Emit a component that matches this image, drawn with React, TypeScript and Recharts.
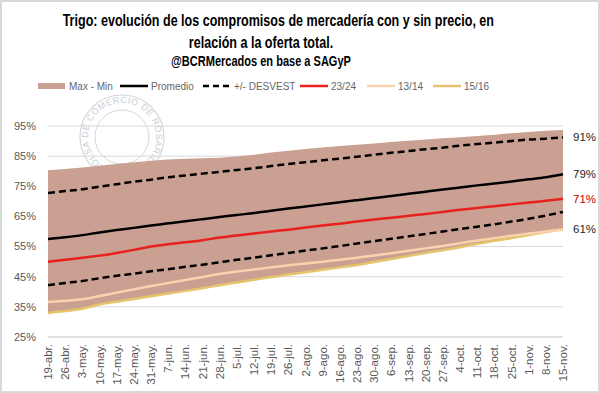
import React from 'react';
import { ComposedChart, Area, Line, XAxis, YAxis, CartesianGrid } from 'recharts';

// semanas de la campaña
const weeks = [
  '19-abr.', '26-abr.', '3-may.', '10-may.', '17-may.', '24-may.', '31-may.', '7-jun.',
  '14-jun.', '21-jun.', '28-jun.', '5-jul.', '12-jul.', '19-jul.', '26-jul.', '2-ago.',
  '9-ago.', '16-ago.', '23-ago.', '30-ago.', '6-sep.', '13-sep.', '20-sep.', '27-sep.',
  '4-oct.', '11-oct.', '18-oct.', '25-oct.', '1-nov.', '8-nov.', '15-nov.',
];

const maxValues = [
  80.3, 80.7, 81.2, 81.8, 82.4, 83.0, 83.5, 83.9, 84.1, 84.3, 84.5, 84.9, 85.5, 86.2, 86.8, 87.4,
  87.9, 88.4, 88.8, 89.2, 89.7, 90.1, 90.5, 90.9, 91.3, 91.7, 92.1, 92.6, 93.0, 93.4, 93.7,
];
const minValues = [
  33.0, 33.6, 34.4, 35.8, 36.7, 37.6, 38.5, 39.4, 40.3, 41.2, 42.2, 43.1, 44.0, 44.9, 45.7, 46.5,
  47.3, 48.1, 48.9, 49.9, 50.9, 51.9, 52.9, 53.8, 54.8, 55.9, 56.9, 57.8, 58.8, 59.8, 60.8,
];
const avgValues = [
  57.5, 58.1, 58.8, 59.7, 60.5, 61.2, 62.0, 62.7, 63.4, 64.1, 64.8, 65.5, 66.1, 66.9, 67.6, 68.3,
  69.0, 69.7, 70.4, 71.1, 71.8, 72.5, 73.2, 73.9, 74.6, 75.3, 75.9, 76.6, 77.3, 78.0, 79.0,
];
const upperDev = [
  72.8, 73.4, 74.0, 74.9, 75.7, 76.5, 77.2, 78.0, 78.6, 79.2, 79.8, 80.4, 81.0, 81.7, 82.4, 83.0,
  83.6, 84.2, 84.8, 85.5, 86.1, 86.7, 87.3, 87.8, 88.5, 89.0, 89.5, 90.0, 90.5, 90.8, 91.2,
];
const lowerDev = [
  42.2, 42.9, 43.6, 44.5, 45.3, 46.0, 46.8, 47.5, 48.3, 49.0, 49.8, 50.6, 51.3, 52.1, 52.9, 53.7,
  54.4, 55.2, 56.0, 56.8, 57.6, 58.4, 59.2, 60.0, 60.8, 61.6, 62.4, 63.3, 64.2, 65.3, 66.5,
];
const camp2324 = [
  50.0, 50.6, 51.3, 52.0, 52.9, 53.9, 55.0, 55.8, 56.4, 57.1, 58.0, 58.7, 59.3, 60.0, 60.6, 61.3,
  62.0, 62.6, 63.3, 64.0, 64.6, 65.2, 65.8, 66.5, 67.2, 67.8, 68.4, 69.0, 69.6, 70.2, 70.8,
];
const camp1314 = [
  36.6, 37.0, 37.5, 38.6, 39.7, 40.8, 41.9, 42.9, 43.9, 44.9, 45.9, 46.7, 47.4, 48.1, 48.8, 49.4,
  50.0, 50.6, 51.3, 52.0, 52.8, 53.6, 54.4, 55.2, 56.1, 57.0, 57.8, 58.6, 59.3, 60.0, 60.6,
];
const camp1516 = [
  33.0, 33.6, 34.4, 35.8, 36.7, 37.6, 38.5, 39.4, 40.3, 41.2, 42.2, 43.1, 44.0, 44.9, 45.7, 46.5,
  47.3, 48.1, 48.9, 49.9, 50.9, 51.9, 52.9, 53.8, 54.8, 55.9, 56.9, 57.8, 58.8, 59.8, 60.8,
];
const yTicks = [25, 35, 45, 55, 65, 75, 85, 95];

const data = weeks.map((w, i) => ({
  week: w,
  band: [minValues[i], maxValues[i]],
  avg: avgValues[i],
  upper: upperDev[i],
  lower: lowerDev[i],
  c2324: camp2324[i],
  c1314: camp1314[i],
  c1516: camp1516[i],
}));

const BAND = '#C9A091';
const RED = '#E8201E';
const PEACH = '#F8D3AE';
const GOLD = '#E6C46C';
const AXIS_FONT = '"Liberation Sans", Arial, sans-serif';

const last = weeks.length - 1;

const endLabel = (color: string) => (props: any) => {
  if (props.index !== last) return null;
  return (
    <text x={props.x + 10} y={props.y} dy="0.35em" fontSize={11.5} fontFamily={AXIS_FONT} fill={color}>
      {Math.round(props.value)}%
    </text>
  );
};

const WeekTick = (props: any) => {
  const { x, y, payload } = props;
  return (
    <g transform={`translate(${x},${y})`}>
      <text transform="rotate(-90)" textAnchor="end" dy="0.35em" fontSize={11.5} fontFamily={AXIS_FONT} fill="#595959">
        {payload.value}
      </text>
    </g>
  );
};

const legendItems = [
  { label: 'Max - Min', left: 38, kind: 'rect', color: BAND },
  { label: 'Promedio', left: 120, kind: 'line', color: '#000' },
  { label: '+/- DESVEST', left: 203, kind: 'dash', color: '#000' },
  { label: '23/24', left: 300, kind: 'line', color: RED },
  { label: '13/14', left: 367, kind: 'line', color: PEACH },
  { label: '15/16', left: 433, kind: 'line', color: GOLD },
];

function Seal() {
  return (
    <svg width={600} height={393} style={{ position: 'absolute', left: 0, top: 0 }}>
      <defs>
        <path id="sealArc" d="M 122 171 A 34 34 0 1 1 122.1 171" />
      </defs>
      <circle cx={122} cy={137} r={42} fill="none" stroke="#D3D7DE" strokeWidth={1.2} />
      <circle cx={122} cy={137} r={27} fill="none" stroke="#D3D7DE" strokeWidth={1} />
      <text fontSize={9} fill="#C9CED6" fontFamily={AXIS_FONT} letterSpacing={0.5}>
        <textPath href="#sealArc" startOffset="8%">BOLSA DE COMERCIO DE ROSARIO</textPath>
      </text>
    </svg>
  );
}

export default function App() {
  return (
    <div
      style={{
        position: 'absolute', left: 0, top: 0, width: 600, height: 393, background: '#fff',
        border: '2px solid #D9D9D9', boxSizing: 'border-box', overflow: 'hidden',
      }}
    >
      <div style={{ position: 'absolute', left: -2, top: -2 }}>
        <Seal />
        <div style={{ position: 'absolute', left: 0, top: 0 }}>
          <ComposedChart width={600} height={393} data={data} margin={{ top: 126, right: 37, bottom: 6, left: 8 }}>
            <CartesianGrid vertical={false} stroke="#D9D9D9" />
            <XAxis
              dataKey="week"
              interval={0}
              height={50}
              tickSize={0}
              tickMargin={7}
              tickLine={false}
              axisLine={{ stroke: '#D9D9D9' }}
              tick={<WeekTick />}
            />
            <YAxis
              domain={[25, 95]}
              ticks={yTicks}
              width={40}
              axisLine={false}
              tickLine={false}
              tickSize={0}
              tickMargin={12}
              tickFormatter={(v: number) => `${v}%`}
              tick={{ fontSize: 11, fontFamily: AXIS_FONT, fill: '#595959' }}
            />
            <Area dataKey="band" type="linear" fill={BAND} fillOpacity={1} stroke="none" isAnimationActive={false} />
            <Line dataKey="c1516" type="monotone" stroke={GOLD} strokeWidth={2.5} dot={false} isAnimationActive={false} label={endLabel('#262626')} />
            <Line dataKey="c1314" type="monotone" stroke={PEACH} strokeWidth={2.5} dot={false} isAnimationActive={false} />
            <Line dataKey="lower" type="monotone" stroke="#000" strokeWidth={2.5} strokeDasharray="7 4" dot={false} isAnimationActive={false} />
            <Line dataKey="c2324" type="monotone" stroke={RED} strokeWidth={2.5} dot={false} isAnimationActive={false} label={endLabel('#C00000')} />
            <Line dataKey="avg" type="monotone" stroke="#000" strokeWidth={2.5} dot={false} isAnimationActive={false} label={endLabel('#262626')} />
            <Line dataKey="upper" type="monotone" stroke="#000" strokeWidth={2.5} strokeDasharray="7 4" dot={false} isAnimationActive={false} label={endLabel('#262626')} />
          </ComposedChart>
        </div>
        <div
          style={{
            position: 'absolute', left: 0, top: 9, width: 522, textAlign: 'center', whiteSpace: 'nowrap',
            fontFamily: AXIS_FONT, fontWeight: 700, color: '#000', transform: 'scaleX(0.76)', transformOrigin: '261px 0',
          }}
        >
          <div style={{ fontSize: 16.5, lineHeight: '22px' }}>
            Trigo: evolución de los compromisos de mercadería con y sin precio, en
            <br />
            relación a la oferta total.
          </div>
          <div style={{ fontSize: 14.5, lineHeight: '18px', marginTop: -1 }}>@BCRMercados en base a SAGyP</div>
        </div>
        {legendItems.map((it) => (
          <div
            key={it.label}
            style={{ position: 'absolute', left: it.left, top: 79, height: 14, display: 'flex', alignItems: 'center', whiteSpace: 'nowrap' }}
          >
            <svg width={30} height={14}>
              {it.kind === 'rect' && <rect x={0} y={4} width={27} height={6} fill={it.color} />}
              {it.kind === 'line' && <line x1={0} y1={7} x2={28} y2={7} stroke={it.color} strokeWidth={2.5} />}
              {it.kind === 'dash' && <line x1={0} y1={7} x2={28} y2={7} stroke={it.color} strokeWidth={2.5} strokeDasharray="6 4" />}
            </svg>
            <span style={{ fontFamily: AXIS_FONT, fontSize: 10, color: '#666', marginLeft: 1 }}>{it.label}</span>
          </div>
        ))}
      </div>
    </div>
  );
}
